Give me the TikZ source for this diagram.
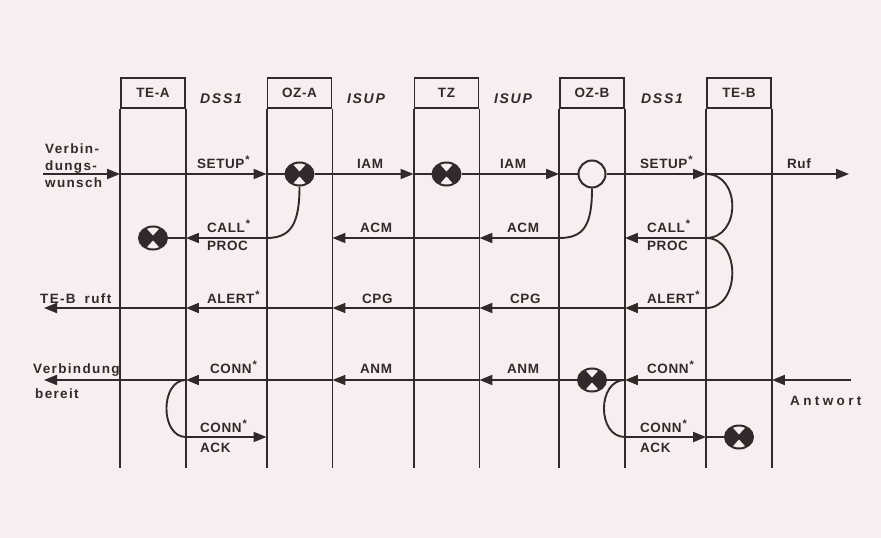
\documentclass[tikz,border=0pt]{standalone}
\usepackage{fontspec}
\setmainfont{Liberation Sans}
\newfontfamily\msgfont[LetterSpace=4]{Liberation Sans}
\newfontfamily\protofont[LetterSpace=12]{Liberation Sans}
\newfontfamily\sidefont[LetterSpace=10]{Liberation Sans}
\newfontfamily\antwfont[LetterSpace=25]{Liberation Sans}
\usepackage{tikz}
\usetikzlibrary{shapes.geometric,arrows.meta}
\definecolor{paper}{HTML}{F7EFEF}
\definecolor{ink}{HTML}{33292A}
\newcommand{\msgstar}{\hspace{1pt}\raisebox{5pt}{\fontsize{11}{11}\selectfont *}}

\begin{document}
\begin{tikzpicture}[x=1pt, y=-1pt,
    font=\msgfont\bfseries\fontsize{13.5}{16}\selectfont,
    line/.style={ink, line width=1.9pt},
    msg/.style={line, -{Triangle[length=13pt,width=10pt]}},
    hdr/.style={draw=ink, line width=1.9pt, minimum width=64pt, minimum height=30pt, inner sep=0pt, text=ink},
    lbl/.style={anchor=base west, inner sep=0pt, text=ink},
    proto/.style={anchor=base, inner sep=0pt, text=ink, font=\protofont\bfseries\itshape\fontsize{14}{16}\selectfont},
    side/.style={lbl, font=\sidefont\bfseries\fontsize{13.5}{16}\selectfont},
    xcirc/.style={ellipse, fill=ink, draw=ink, line width=2pt, minimum width=28pt, minimum height=23pt, inner sep=0pt,
      path picture={
        \fill[paper] ([yshift=2.5pt]path picture bounding box.center) -- ++(-9pt,10pt) -- ++(18pt,0pt) -- cycle;
        \fill[paper] ([yshift=-2.5pt]path picture bounding box.center) -- ++(-9pt,-10pt) -- ++(18pt,0pt) -- cycle;
      }},
    ocirc/.style={circle, draw=ink, fill=paper, line width=2pt, minimum size=27pt, inner sep=0pt}]
    \fill[paper] (0,0) rectangle (881,538);
    \useasboundingbox (0,0) rectangle (881,538);
    %% --- Column heads ---
    \node[hdr] (tea) at (153,93) {TE-A};
    \node[hdr] (oza) at (299.5,93) {OZ-A};
    \node[hdr] (tz) at (446.5,93) {TZ};
    \node[hdr] (ozb) at (592,93) {OZ-B};
    \node[hdr] (teb) at (739,93) {TE-B};
    \node[proto] (dssa) at (221,103) {DSS1};
    \node[proto] (isupa) at (366,103) {ISUP};
    \node[proto] (isupb) at (513,103) {ISUP};
    \node[proto] (dssb) at (662,103) {DSS1};
    %% --- Rows ---
    \coordinate (r1) at (0,174);
    \coordinate (r2) at (0,238);
    \coordinate (r3) at (0,308);
    \coordinate (r4) at (0,380);
    \coordinate (r5) at (0,437);
    \coordinate (bot) at (0,468);
    %% columns and the points where rows meet them
    \foreach \col in {tea,oza,tz,ozb,teb} {
      \draw[line] (\col.south west) -- (\col.south west |- bot);
      \draw[line] (\col.south east) -- (\col.south east |- bot);
      \foreach \row in {1,...,5} {
        \coordinate (\col L\row) at (\col.west |- r\row);
        \coordinate (\col R\row) at (\col.east |- r\row);
      }
    }
    %% free ends outside
    \coordinate (wunsch) at (43,174);
    \coordinate (ruf) at (849,174);
    \coordinate (ruft) at (44,308);
    \coordinate (antw) at (851,380);
    \coordinate (bereit) at (44,380);
    %% --- Switching points ---
    \node[xcirc] (xoza) at (oza |- r1) {};
    \node[xcirc] (xtz) at (tz |- r1) {};
    \node[ocirc] (oozb) at (ozb |- r1) {};
    \node[xcirc] (xtea) at (tea |- r2) {};
    \node[xcirc] (xozb) at (ozb |- r4) {};
    \node[xcirc] (xteb) at (teb |- r5) {};
    %% --- Setup ---
    \draw[msg] (wunsch) -- (teaL1);
    \draw[msg] (teaL1) -- (ozaL1);
    \draw[line] (ozaL1) -- (xoza);
    \draw[msg] (xoza) -- (tzL1);
    \draw[line] (tzL1) -- (xtz);
    \draw[msg] (xtz) -- (ozbL1);
    \draw[line] (ozbL1) -- (oozb);
    \draw[msg] (oozb) -- (tebL1);
    \draw[msg] (tebL1) -- (ruf);
    %% --- Call proceeding / ACM ---
    \draw[line] (xoza.south) .. controls +(0,38) and +(24,0) .. (ozaL2);
    \draw[msg] (ozaL2) -- (teaR2);
    \draw[line] (teaR2) -- (xtea);
    \draw[line] (oozb.south) .. controls +(0,38) and +(24,0) .. (ozbL2);
    \draw[msg] (ozbL2) -- (tzR2);
    \draw[msg] (tzR2) -- (ozaR2);
    \draw[line] (tebL1) .. controls +(35,0) and +(35,0) .. (tebL2);
    \draw[msg] (tebL2) -- (ozbR2);
    %% --- Alerting ---
    \draw[line] (tebL2) .. controls +(35,0) and +(35,0) .. (tebL3);
    \draw[msg] (tebL3) -- (ozbR3);
    \draw[msg] (ozbR3) -- (tzR3);
    \draw[msg] (tzR3) -- (ozaR3);
    \draw[msg] (ozaR3) -- (teaR3);
    \draw[msg] (teaR3) -- (ruft);
    %% --- Connect ---
    \draw[msg] (antw) -- (tebR4);
    \draw[msg] (tebR4) -- (ozbR4);
    \draw[line] (ozbR4) -- (xozb);
    \draw[msg] (xozb) -- (tzR4);
    \draw[msg] (tzR4) -- (ozaR4);
    \draw[msg] (ozaR4) -- (teaR4);
    \draw[msg] (teaR4) -- (bereit);
    %% --- Connect acknowledge ---
    \draw[line] (teaR4) .. controls +(-26,0) and +(-26,0) .. (teaR5);
    \draw[msg] (teaR5) -- (ozaL5);
    \draw[line] (ozbR4) .. controls +(-28,0) and +(-28,0) .. (ozbR5);
    \draw[msg] (ozbR5) -- (tebL5);
    \draw[line] (tebL5) -- (xteb);
    %% --- Labels ---
    \node[side] (wunsch1) at (45,153) {Verbin-};
    \node[side] (wunsch2) at (45,170) {dungs-};
    \node[side] (wunsch3) at (45,187) {wunsch};
    \node[lbl] (setupa) at (197,168) {SETUP\msgstar};
    \node[lbl] (iama) at (357,168) {IAM};
    \node[lbl] (iamb) at (500,168) {IAM};
    \node[lbl] (setupb) at (640,168) {SETUP\msgstar};
    \node[lbl] (ruflbl) at (787,168) {Ruf};
    \node[lbl] (calla) at (207,232) {CALL\msgstar};
    \node[lbl] (proca) at (207,250) {PROC};
    \node[lbl] (acma) at (360,232) {ACM};
    \node[lbl] (acmb) at (507,232) {ACM};
    \node[lbl] (callb) at (647,232) {CALL\msgstar};
    \node[lbl] (procb) at (647,250) {PROC};
    \node[side] (tebruft) at (40,303) {TE-B\hspace{9pt}ruft};
    \node[lbl] (alerta) at (207,303) {ALERT\msgstar};
    \node[lbl] (cpga) at (362,303) {CPG};
    \node[lbl] (cpgb) at (510,303) {CPG};
    \node[lbl] (alertb) at (647,303) {ALERT\msgstar};
    \node[side] (verb1) at (33,373) {Verbindung};
    \node[side] (verb2) at (35,398) {bereit};
    \node[lbl] (conna) at (210,373) {CONN\msgstar};
    \node[lbl] (anma) at (360,373) {ANM};
    \node[lbl] (anmb) at (507,373) {ANM};
    \node[lbl] (connb) at (647,373) {CONN\msgstar};
    \node[lbl, font=\antwfont\bfseries\fontsize{13.5}{16}\selectfont] (antwlbl) at (790,405) {Antwort};
    \node[lbl] (acka1) at (200,432) {CONN\msgstar};
    \node[lbl] (acka2) at (200,452) {ACK};
    \node[lbl] (ackb1) at (640,432) {CONN\msgstar};
    \node[lbl] (ackb2) at (640,452) {ACK};
\end{tikzpicture}
\end{document}
